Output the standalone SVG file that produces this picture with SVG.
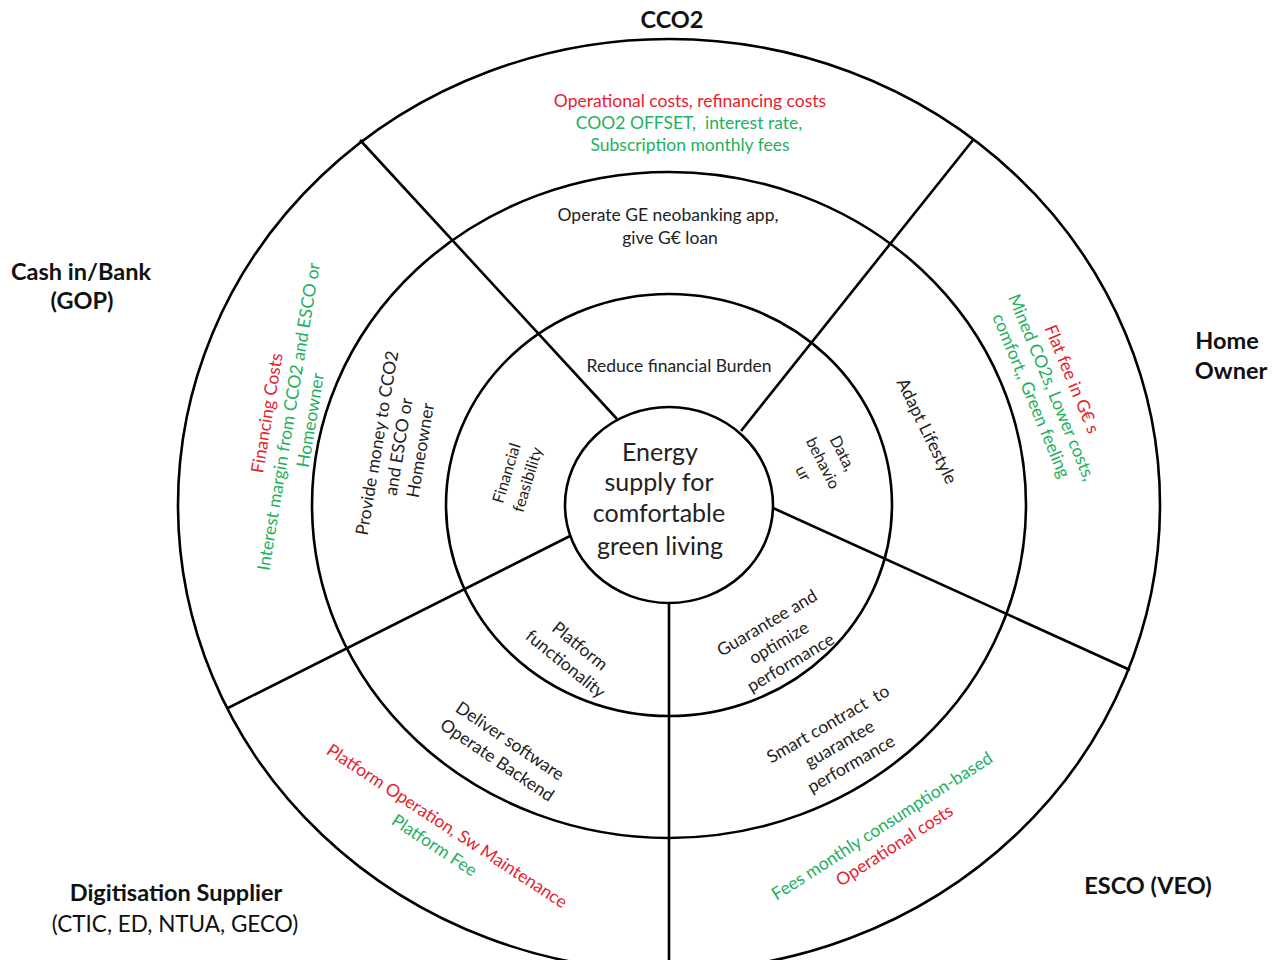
<svg xmlns="http://www.w3.org/2000/svg" width="1275" height="960" viewBox="0 0 1275 960">
<style>
  .ring { fill: none; stroke: #000; stroke-width: 2.6; }
  .spoke { stroke: #000; stroke-width: 2.6; fill: none; }
  text { font-family: Lato, "Open Sans", "Liberation Sans", sans-serif; fill: #222; white-space: pre; }
  .lbl { font-weight: bold; font-size: 23.5px; fill: #111; text-anchor: middle; }
  .lblr { font-size: 22.5px; fill: #111; text-anchor: middle; }
  .ctr { font-size: 25px; text-anchor: middle; fill: #222; }
  .t { font-size: 17.5px; text-anchor: middle; }
  .s { font-size: 16px; text-anchor: middle; }
  .red { fill: #e5222e; }
  .grn { fill: #1fb060; }
</style>
<rect width="1275" height="960" fill="#fff"/>

<g id="rings">
  <ellipse class="ring" cx="669" cy="505" rx="491" ry="466"/>
  <ellipse class="ring" cx="669" cy="505" rx="357" ry="333"/>
  <ellipse class="ring" cx="669" cy="505" rx="223" ry="211"/>
</g>

<g id="connectors">
  <line class="spoke" x1="617" y1="419" x2="360" y2="140"/>
  <line class="spoke" x1="741" y1="431" x2="973" y2="140"/>
  <line class="spoke" x1="773" y1="508" x2="1130" y2="670"/>
  <line class="spoke" x1="570" y1="536" x2="228" y2="708"/>
  <line class="spoke" x1="669" y1="603" x2="669" y2="965"/>
</g>

<g id="center">
  <ellipse class="ring" cx="669" cy="505" rx="104" ry="98" fill="#fff"/>
  <text class="ctr" x="660" y="461">Energy</text>
  <text class="ctr" x="659" y="491">supply for</text>
  <text class="ctr" x="659" y="522">comfortable</text>
  <text class="ctr" x="660" y="555">green living</text>
</g>

<g id="label-cco2"><text class="lbl" x="672" y="28">CCO2</text></g>
<g id="label-bank">
  <text class="lbl" x="81" y="280">Cash in/Bank</text>
  <text class="lbl" x="82" y="309">(GOP)</text>
</g>
<g id="label-home">
  <text class="lbl" x="1227" y="349">Home</text>
  <text class="lbl" x="1231" y="379">Owner</text>
</g>
<g id="label-esco"><text class="lbl" x="1148" y="894">ESCO (VEO)</text></g>
<g id="label-digi">
  <text class="lbl" x="176" y="901">Digitisation Supplier</text>
  <text class="lblr" x="175" y="932">(CTIC, ED, NTUA, GECO)</text>
</g>

<g id="cco2-outer">
  <text class="t red" x="690" y="107">Operational costs, refinancing costs</text>
  <text class="t grn" x="689" y="129" xml:space="preserve">COO2 OFFSET,  interest rate,</text>
  <text class="t grn" x="690" y="151">Subscription monthly fees</text>
</g>
<g id="cco2-mid">
  <text class="t" x="668" y="221">Operate GE neobanking app,</text>
  <text class="t" x="670" y="244">give G€ loan</text>
</g>
<g id="cco2-inner"><text class="t" x="679" y="372">Reduce financial Burden</text></g>

<g id="bank-outer" transform="translate(267,413) rotate(-80.6)">
  <text class="t red" x="0" y="6">Financing Costs</text>
  <text class="t grn" x="0" y="28">Interest margin from CCO2 and ESCO or</text>
  <text class="t grn" x="0" y="50">Homeowner</text>
</g>
<g id="bank-mid" transform="translate(377,443) rotate(-80.5)">
  <text class="t" x="0" y="6">Provide money to CCO2</text>
  <text class="t" x="0" y="28">and ESCO or</text>
  <text class="t" x="0" y="50">Homeowner</text>
</g>
<g id="bank-inner" transform="translate(506,473) rotate(-73)">
  <text class="s" x="0" y="6">Financial</text>
  <text class="s" x="0" y="28">feasibility</text>
</g>

<g id="home-inner" transform="translate(843,453) rotate(63)">
  <text class="s" x="0" y="6">Data,</text>
  <text class="s" x="0" y="28">behavio</text>
  <text class="s" x="0" y="50">ur</text>
</g>
<g id="home-mid" transform="translate(927,431) rotate(64)">
  <text class="t" x="0" y="6">Adapt Lifestyle</text>
</g>
<g id="home-outer" transform="translate(1072,379) rotate(67.5)">
  <text class="t red" x="0" y="6">Flat fee in G€ s</text>
  <text class="t grn" x="0" y="28">Mined CO2s, Lower costs,</text>
  <text class="t grn" x="0" y="50">comfort,, Green feeling</text>
</g>

<g id="esco-inner" transform="translate(767,623) rotate(-30.7)">
  <text class="t" x="0" y="6">Guarantee and</text>
  <text class="t" x="0" y="29">optimize</text>
  <text class="t" x="0" y="52">performance</text>
</g>
<g id="esco-mid" transform="translate(828,724) rotate(-30)">
  <text class="t" x="0" y="6" xml:space="preserve">Smart contract  to</text>
  <text class="t" x="0" y="29">guarantee</text>
  <text class="t" x="0" y="52">performance</text>
</g>
<g id="esco-outer" transform="translate(882,826) rotate(-32.7)">
  <text class="t grn" x="0" y="6">Fees monthly consumption-based</text>
  <text class="t red" x="0" y="29">Operational costs</text>
</g>

<g id="digi-inner" transform="translate(580,646) rotate(39)">
  <text class="t" x="0" y="6">Platform</text>
  <text class="t" x="0" y="29">functionality</text>
</g>
<g id="digi-mid" transform="translate(510,741) rotate(34)">
  <text class="t" x="0" y="6">Deliver software</text>
  <text class="t" x="0" y="29">Operate Backend</text>
</g>
<g id="digi-outer" transform="translate(447,826) rotate(33.3)">
  <text class="t red" x="0" y="6">Platform Operation, Sw Maintenance</text>
  <text class="t grn" x="0" y="29">Platform Fee</text>
</g>
</svg>
